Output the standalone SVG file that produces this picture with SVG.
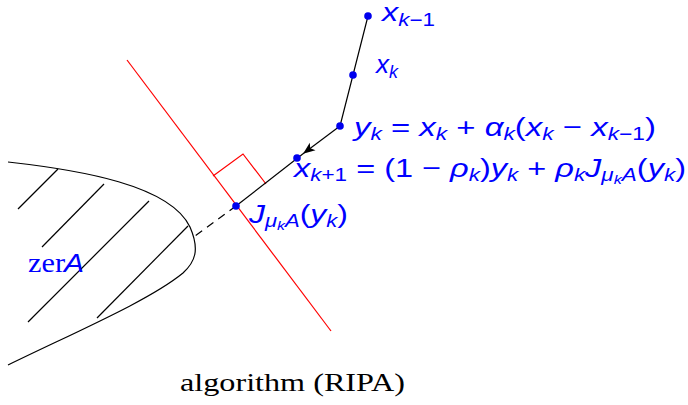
<svg xmlns="http://www.w3.org/2000/svg" width="688" height="405" viewBox="0 0 688 405">
<style>
.ln{stroke:#000;stroke-width:1.2;fill:none}
.rd{stroke:#ff0000;stroke-width:1.2;fill:none}
.pt{fill:#0000ee}
.m{font-family:"Liberation Sans",Arial,sans-serif;font-style:italic;font-size:26px;fill:#0000ff}
.u{font-style:normal}
.s{font-size:18px}
.ss{font-size:13px}
.rm{font-family:"Liberation Serif",serif;font-size:26px;fill:#000}
</style>
<defs>
<marker id="ah" viewBox="0 0 10 10" refX="9" refY="5" markerWidth="12" markerHeight="12" markerUnits="userSpaceOnUse" orient="auto">
<path d="M0,1 L10,5 L0,9 L2.5,5 Z" fill="#000"/>
</marker>
</defs>
<g id="region">
<path class="ln" d="M8,162 C80,170 170,185 190,227 C200,250 195,262 183,273 C150,300 80,330 8,365"/>
<line class="ln" x1="18" y1="209" x2="58" y2="169"/>
<line class="ln" x1="42" y1="247" x2="104" y2="184"/>
<line class="ln" x1="28" y1="322" x2="149" y2="201"/>
<line class="ln" x1="97" y1="318" x2="188" y2="226"/>
<text x="28" y="272" font-family="Liberation Serif,serif" font-size="28" fill="#0000ff" textLength="37" lengthAdjust="spacingAndGlyphs">zer</text>
<text class="m" x="64" y="272" font-size="31" textLength="20" lengthAdjust="spacingAndGlyphs">A</text>
</g>
<g id="redline">
<line class="rd" x1="127" y1="60" x2="331" y2="331"/>
<path class="rd" d="M213,176 L243,154 L266,184"/>
</g>
<g id="connectors">
<polyline class="ln" points="368,16 353,75 340,126"/>
<line class="ln" x1="340" y1="126" x2="304" y2="153" marker-end="url(#ah)"/>
<line class="ln" x1="304" y1="153" x2="236" y2="206"/>
<line class="ln" x1="236" y1="206" x2="191" y2="239" stroke-dasharray="8,6"/>
</g>
<g id="xkm1">
<circle class="pt" cx="368" cy="16" r="3.8"/>
<text class="m" x="382" y="21" textLength="53" lengthAdjust="spacingAndGlyphs">x<tspan class="s" dy="5">k<tspan class="u">−1</tspan></tspan></text>
</g>
<g id="xk">
<circle class="pt" cx="353" cy="75" r="3.8"/>
<text class="m" x="376" y="73" textLength="22" lengthAdjust="spacingAndGlyphs">x<tspan class="s" dy="5">k</tspan></text>
</g>
<g id="yk">
<circle class="pt" cx="340" cy="126" r="3.8"/>
<text class="m" x="354" y="136" textLength="302" lengthAdjust="spacingAndGlyphs">y<tspan class="s" dy="4">k</tspan><tspan class="u" dy="-4"> = </tspan>x<tspan class="s" dy="4">k</tspan><tspan class="u" dy="-4"> + </tspan>α<tspan class="s" dy="4">k</tspan><tspan class="u" dy="-4">(</tspan>x<tspan class="s" dy="4">k</tspan><tspan class="u" dy="-4"> − </tspan>x<tspan class="s" dy="4">k<tspan class="u">−1</tspan></tspan><tspan class="u" dy="-4">)</tspan></text>
</g>
<g id="xkp1">
<circle class="pt" cx="297" cy="158" r="3.8"/>
<text class="m" x="294" y="177" textLength="392" lengthAdjust="spacingAndGlyphs">x<tspan class="s" dy="4">k<tspan class="u">+1</tspan></tspan><tspan class="u" dy="-4"> = (1 − </tspan>ρ<tspan class="s" dy="4">k</tspan><tspan class="u" dy="-4">)</tspan>y<tspan class="s" dy="4">k</tspan><tspan class="u" dy="-4"> + </tspan>ρ<tspan class="s" dy="4">k</tspan><tspan dy="-4">J</tspan><tspan class="s" dy="4">μ<tspan class="ss" dy="3">k</tspan><tspan dy="-3">A</tspan></tspan><tspan class="u" dy="-4">(</tspan>y<tspan class="s" dy="4">k</tspan><tspan class="u" dy="-4">)</tspan></text>
</g>
<g id="J">
<circle class="pt" cx="236" cy="206" r="3.8"/>
<text class="m" x="249" y="223" textLength="99" lengthAdjust="spacingAndGlyphs">J<tspan class="s" dy="4">μ<tspan class="ss" dy="3">k</tspan><tspan dy="-3">A</tspan></tspan><tspan class="u" dy="-4">(</tspan>y<tspan class="s" dy="4">k</tspan><tspan class="u" dy="-4">)</tspan></text>
</g>
<text class="rm" x="180" y="391" textLength="225" lengthAdjust="spacingAndGlyphs">algorithm (RIPA)</text>
</svg>
